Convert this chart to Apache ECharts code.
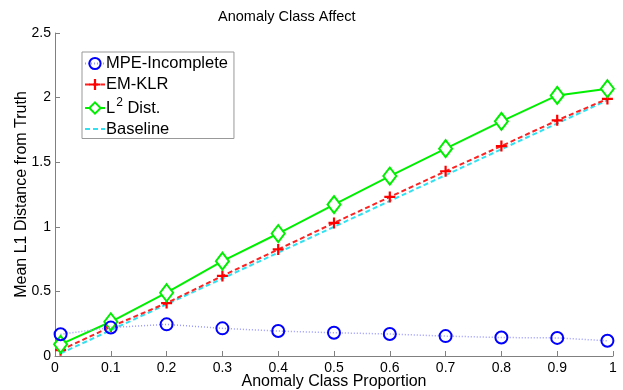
<!DOCTYPE html>
<html><head><meta charset="utf-8">
<script src="https://cdn.jsdelivr.net/npm/echarts@6/dist/echarts.min.js"></script>
<style>html,body{margin:0;padding:0;background:#fff}#c{width:623px;height:390px}</style>
</head><body><div id="c"></div>
<script>
const xVals = [0.01, 0.1, 0.2, 0.3, 0.4, 0.5, 0.6, 0.7, 0.8, 0.9, 0.99];
const mpe = [0.168, 0.22, 0.245, 0.214, 0.193, 0.18, 0.17, 0.154, 0.143, 0.14, 0.118];
const emklr = [0.045, 0.226, 0.41, 0.62, 0.825, 1.03, 1.231, 1.43, 1.625, 1.824, 1.99];
const l2 = [0.09, 0.265, 0.49, 0.734, 0.948, 1.172, 1.393, 1.605, 1.816, 2.017, 2.069];
const baseline = [0.02, 0.2, 0.4, 0.6, 0.8, 1.0, 1.2, 1.4, 1.6, 1.8, 1.98];
const xTicks = [0, 0.1, 0.2, 0.3, 0.4, 0.5, 0.6, 0.7, 0.8, 0.9, 1];
const yTicks = [0, 0.5, 1, 1.5, 2, 2.5];

const pair = a => a.map((v, i) => [xVals[i], v]);
const FONT = '"Liberation Sans", Arial, sans-serif';
const plus = 'path://M4,0H6V4H10V6H6V10H4V6H0V4H4Z';

const chart = echarts.init(document.getElementById('c'));
chart.setOption({
  animation: false,
  backgroundColor: '#fff',
  textStyle: { fontFamily: FONT, color: '#000' },
  title: {
    text: 'Anomaly Class Affect', left: 213, top: 4,
    textStyle: { fontFamily: FONT, fontSize: 14.5, fontWeight: 'normal', color: '#000' }
  },
  grid: { left: 55, top: 33, width: 558, height: 323, outerBoundsMode: 'none', containLabel: false },
  legend: {
    orient: 'vertical', left: 82, top: 52,
    backgroundColor: '#fff', borderColor: '#999', borderWidth: 1,
    padding: [3, 6, 1, 2], itemGap: 4, itemWidth: 20, itemHeight: 14,
    textStyle: {
      fontFamily: FONT, fontSize: 16.5, color: '#000', padding: [0, 0, 0, -4],
      rich: {
        n: { fontFamily: FONT, fontSize: 16.5, color: '#000' },
        s: { fontFamily: FONT, fontSize: 12, color: '#000', padding: [0, 0, 10, 1] }
      }
    },
    formatter: name => name === 'L2 Dist.' ? '{n|L}{s|2}{n| Dist.}' : name,
    data: ['MPE-Incomplete', 'EM-KLR', 'L2 Dist.', { name: 'Baseline', itemStyle: { opacity: 0 } }]
  },
  xAxis: {
    type: 'value', min: 0, max: 1, interval: 0.1,
    name: 'Anomaly Class Proportion', nameLocation: 'middle', nameGap: 18, nameMoveOverlap: false,
    nameTextStyle: { fontFamily: FONT, fontSize: 16, color: '#000', verticalAlign: 'top' },
    axisLine: { show: true, lineStyle: { color: '#808080', width: 1 } },
    axisTick: { show: true, inside: true, length: 5, lineStyle: { color: '#808080' } },
    axisLabel: { fontFamily: FONT, fontSize: 14, color: '#000', margin: 5,
      formatter: v => xTicks.includes(+v.toFixed(2)) ? String(+v.toFixed(2)) : '' },
    splitLine: { show: false }
  },
  yAxis: {
    type: 'value', min: 0, max: 2.5, interval: 0.5,
    name: 'Mean L1 Distance from Truth', nameLocation: 'middle', nameGap: 25, nameRotate: 90, nameMoveOverlap: false,
    nameTextStyle: { fontFamily: FONT, fontSize: 16, color: '#000' },
    axisLine: { show: true, lineStyle: { color: '#808080', width: 1 } },
    axisTick: { show: true, inside: true, length: 5, lineStyle: { color: '#808080' } },
    axisLabel: { fontFamily: FONT, fontSize: 14, color: '#000', margin: 4,
      formatter: v => yTicks.includes(+v.toFixed(2)) ? String(+v.toFixed(2)) : '' },
    splitLine: { show: false }
  },
  series: [
    {
      name: 'Baseline', type: 'line', data: pair(baseline), z: 2,
      symbol: 'circle', showSymbol: false, color: '#00e5ff',
      lineStyle: { color: '#33e0f0', width: 2, type: [5, 3] }
    },
    {
      name: 'EM-KLR', type: 'line', data: pair(emklr), z: 3,
      symbol: plus, symbolSize: 11, color: '#ff0000',
      itemStyle: { color: '#ff0000' },
      lineStyle: { color: '#ff2020', width: 2, type: [5, 3] }
    },
    {
      name: 'L2 Dist.', type: 'line', data: pair(l2), z: 4,
      symbol: 'diamond', symbolSize: [13, 17], color: '#00ee00',
      itemStyle: { color: '#fff', borderColor: '#00ee00', borderWidth: 2 },
      lineStyle: { color: '#00ee00', width: 2, type: 'solid' }
    },
    {
      name: 'MPE-Incomplete', type: 'line', data: pair(mpe), z: 5,
      symbol: 'circle', symbolSize: 12, color: '#0000ff',
      itemStyle: { color: 'rgba(255,255,255,0)', borderColor: '#0000ff', borderWidth: 2 },
      lineStyle: { color: '#9a9aff', width: 1.5, type: [1, 2] }
    }
  ]
});
</script></body></html>
